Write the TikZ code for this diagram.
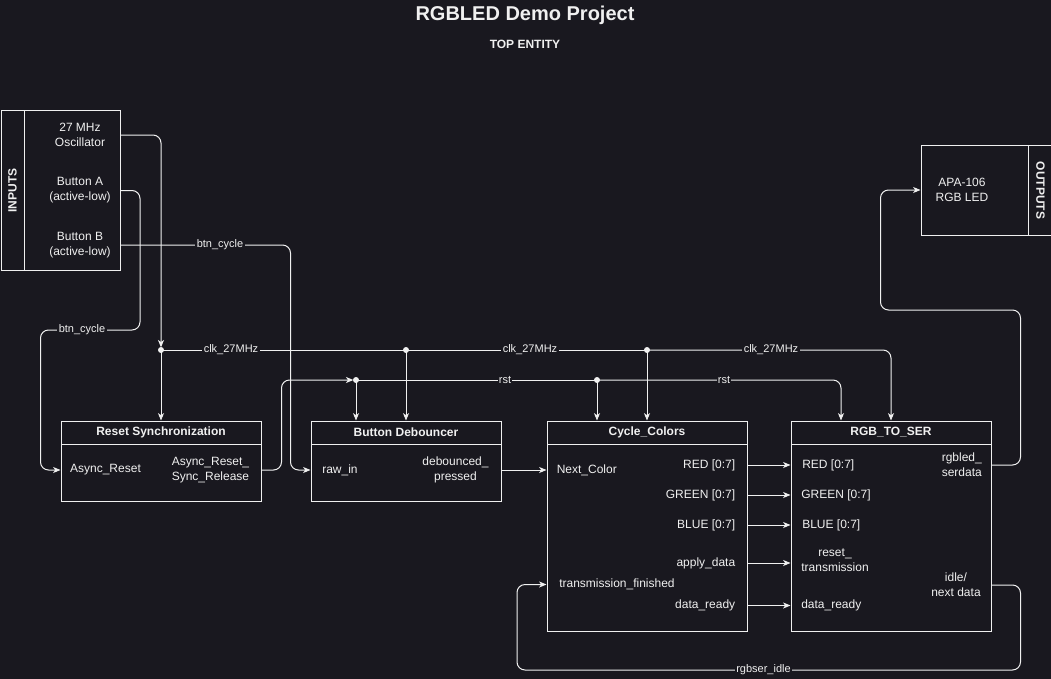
\documentclass[tikz,border=0pt]{standalone}
\usepackage{fontspec}
\setmainfont{Liberation Sans}
\usepackage{tikz}
\usetikzlibrary{arrows.meta}

\definecolor{bg}{RGB}{25,24,31}
\definecolor{ink}{RGB}{240,240,240}

\begin{document}
\begin{tikzpicture}
			[x=0.75pt,y=-0.75pt,>={Stealth[length=5.5pt,width=4.5pt,inset=1.5pt]},
			every node/.style={text=ink,font=\fontsize{9}{11.25}\selectfont},
			box/.style={draw=ink,line width=0.75pt,inner sep=0pt},
			tag/.style={font=\fontsize{9}{11.25}\selectfont\bfseries},
			hdr/.style={box,tag,minimum height=17.25pt},
			port/.style={inner sep=0pt,align=center},
			wire/.style={draw=ink,line width=0.75pt,rounded corners=6pt},
			post/.style={wire,->},
			lbl/.style={fill=bg,inner sep=1pt,font=\fontsize{8.25}{9}\selectfont},
			dot/.style={circle,fill=ink,inner sep=0pt,minimum size=4.5pt}]
			
			\fill [bg] (0,0) rectangle (1051,679);
			\useasboundingbox (0,0) rectangle (1051,679);
			
			\node (title) at (525,15) {\fontsize{15}{18}\selectfont\bfseries RGBLED Demo Project};
			\node [tag](sub) at (525,44) {TOP ENTITY};
			
			\node [box,minimum width=17.25pt,minimum height=120pt,anchor=north west](inbar) at (0.5,110) {};
			\node [box,minimum width=72.375pt,minimum height=120pt,anchor=north west](inp) at (23.5,110) {};
				\node [tag,rotate=90] at (inbar) {INPUTS};
				\node [port](osc)  at (80,135)   {27 MHz\\Oscillator};
				\node [port](btna) at (80,190.5) {Button A\\(active-low)};
				\node [port](btnb) at (80,245)   {Button B\\(active-low)};
			
			\node [box,minimum width=80.25pt,minimum height=67.5pt,anchor=north west](led) at (920.5,145) {};
			\node [box,minimum width=18.75pt,minimum height=67.5pt,anchor=north west](outbar) at (1027.5,145) {};
				\node [tag,rotate=-90] at (outbar) {OUTPUTS};
				\node [port](apa) at (962,190) {APA-106\\RGB LED};
			
			\node [box,minimum width=150pt,minimum height=60pt,anchor=north west](rs) at (60.5,420.5) {};
			\node [hdr,minimum width=150pt,anchor=north west](rsh) at (60.5,420.5) {Reset Synchronization};
				\node [port](rsin) at (105.5,470) {Async\_Reset};
				\node [port,align=left,anchor=west](rsout) at (171.5,470) {Async\_Reset\_\\Sync\_Release};
			
			\node [box,minimum width=142.5pt,minimum height=60pt,anchor=north west](bd) at (310.5,420.5) {};
			\node [hdr,minimum width=142.5pt,anchor=north west](bdh) at (310.5,420.5) {Button Debouncer};
				\node [port](bdin)  at (340,470)   {raw\_in};
				\node [port](bdout) at (455.5,470) {debounced\_\\pressed};
			
			\node [box,minimum width=150pt,minimum height=157.5pt,anchor=north west](cc) at (546.5,420.5) {};
			\node [hdr,minimum width=150pt,anchor=north west](cch) at (546.5,420.5) {Cycle\_Colors};
				\node [port,anchor=west](ccin)    at (556.5,470)   {Next\_Color};
				\node [port,anchor=east](ccred)   at (735.5,465)   {RED [0:7]};
				\node [port,anchor=east](ccgreen) at (735.5,495)   {GREEN [0:7]};
				\node [port,anchor=east](ccblue)  at (735.5,525)   {BLUE [0:7]};
				\node [port,anchor=east](ccapply) at (735.5,563)   {apply\_data};
				\node [port,anchor=west](ccfin)   at (559,584.5)   {transmission\_finished};
				\node [port,anchor=east](ccready) at (735.5,605.5) {data\_ready};
			
			\node [box,minimum width=150pt,minimum height=157.5pt,anchor=north west](rts) at (790.5,420.5) {};
			\node [hdr,minimum width=150pt,anchor=north west](rtsh) at (790.5,420.5) {RGB\_TO\_SER};
				\node [port,anchor=west](rtsred)   at (802,465)     {RED [0:7]};
				\node [port,anchor=west](rtsgreen) at (801,495)     {GREEN [0:7]};
				\node [port,anchor=west](rtsblue)  at (802,525)     {BLUE [0:7]};
				\node [port](rtsreset)             at (835,560.5)   {reset\_\\transmission};
				\node [port,anchor=west](rtsready) at (801,605.5)   {data\_ready};
				\node [port,align=left,anchor=west](rtsser) at (941.5,465) {rgbled\_\\serdata};
				\node [port](rtsidle)              at (956,585)     {idle/\\next data};
			
			\coordinate (jc0) at (rs.north |- 0,350);
			\coordinate (jc1) at (bd.north |- 0,350);
			\coordinate (jc2) at (cc.north |- 0,350);
			\coordinate (jr0) at (356,380);
			\coordinate (jr1) at (597,380);
			
			\draw [post,shorten >=2pt] (inp.east |- osc) -| (jc0);
			\draw [post] (jc0) -- (rs.north);
			\draw [wire] (jc0) -- (jc2);
			\draw [post] (jc1) -- (bd.north);
			\draw [post] (jc2) -- (cc.north);
			\draw [post] (jc2) -| (rts.north);
			
			\draw [post,shorten >=2pt] (rs.east |- rsout) -- ++(20,0) |- (jr0);
			\draw [post] (jr0) -- (jr0 |- bd.north);
			\draw [wire] (jr0) -- (jr1);
			\draw [post] (jr1) -- (jr1 |- cc.north);
			\draw [post] (jr1) -| ([xshift=-37.5pt]rts.north);
			
			\draw [post] (inp.east |- btna) -| (140,330) -| (40.5,470) -- (rs.west |- rsin);
			\draw [post] (inp.east |- btnb) -| (290.5,470) -- (bd.west |- bdin);
			\draw [post] (bd.east |- bdout) -- (cc.west |- ccin);
			
			\foreach \p in {ccred,ccgreen,ccblue,ccapply,ccready}
				\draw [post] (cc.east |- \p) -- (rts.west |- \p);
			
			\draw [post] (rts.east |- rtsser) -| (1020.5,310) -| (880.5,190) -- (led.west |- apa);
			\draw [post] (rts.east |- rtsidle) -| (1020.5,670) -| (517,584.5) -- (cc.west |- ccfin);
			
			\foreach \j in {jc0,jc1,jc2,jr0,jr1}
				\node [dot] at (\j) {};
			
			\node [lbl] at (82,330)    {btn\_cycle};
			\node [lbl] at (220,245)   {btn\_cycle};
			\node [lbl] at (231,350)   {clk\_27MHz};
			\node [lbl] at (530,350)   {clk\_27MHz};
			\node [lbl] at (771,350)   {clk\_27MHz};
			\node [lbl] at (505,380)   {rst};
			\node [lbl] at (724,380)   {rst};
			\node [lbl] at (763.5,670) {rgbser\_idle};
			
\end{tikzpicture}
\end{document}
